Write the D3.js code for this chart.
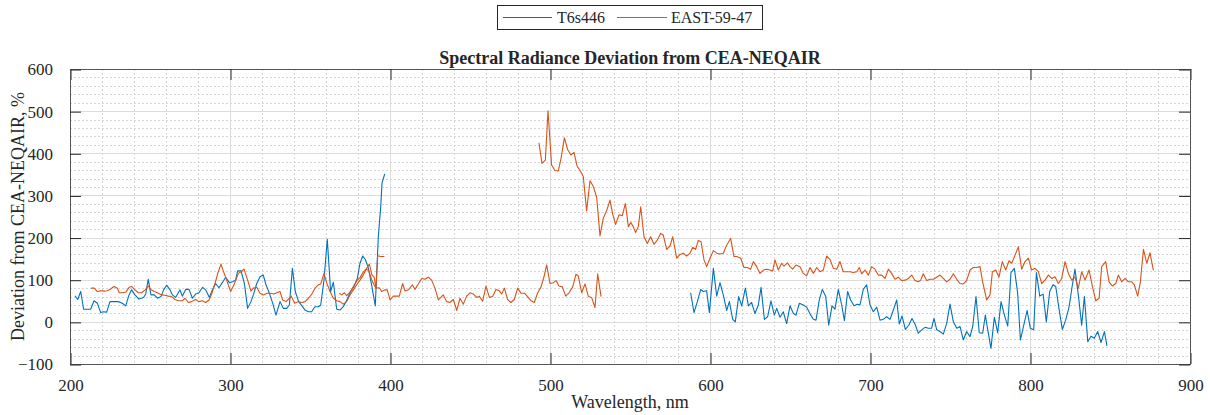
<!DOCTYPE html>
<html>
<head>
<meta charset="utf-8">
<script src="https://cdn.jsdelivr.net/npm/d3@7"></script>
<style>
  html, body { margin: 0; padding: 0; background: #fff; }
  svg { display: block; font-family: "Liberation Serif", "Times New Roman", serif; }
  svg text { font-family: "Liberation Serif", "Times New Roman", serif !important; fill: #262626; }
</style>
</head>
<body>
<svg id="chart" width="1210" height="415"></svg>
<script>
// Axis ticks
const xTicks = [200, 300, 400, 500, 600, 700, 800, 900];
const yTicks = [-100, 0, 100, 200, 300, 400, 500, 600];

// T6s446 — first band (UV / blue)
const t6Wave1 = [203.1,204.8,206.7,208.5,211,212.9,215,217.1,219.2,220.8,222.9,225,227.1,230.2,232.7,234.8,236.9,238.5,240.6,243.1,246,247.3,248.9,250.6,252.7,254.8,256.9,258.5,260.4,262.5,264,266,268.75,270.2,272.3,274.4,276.5,278.5,280.6,282.9,284.8,287.1,289,291,293.1,295.2,297.3,299.6,301.7,303.5,304.8,306.9,309,311,313.1,314.6,316.7,318.75,320.8,322.5,324.6,326.7,328.75,331.25,333.3,335.4,337.1,339,340.8,342.9,345,346.9,349,351,353.1,355.2,356.7,358.75,360.8,362.9,364.6,366.7,368.75,370.8,372.5,374,375.4,377.5,379.6,381.25,382.9,384.6,386.5,388.5,390.8,392.7,394.2,395,396.7];
const t6Dev1 = [62,53,72,30,30,30,50,44,22,24,23,48,48,48,44,38,64,76,64,54,58,66,101,64,64,56,60,76,87,76,64,58,76,61,77,77,56,66,69,82,76,58,76,91,81,93,106,93,95,99,121,121,91,32,48,64,91,107,111,88,68,44,16,48,32,32,40,127,72,48,38,28,24,24,36,36,40,99,196,72,94,30,28,36,48,60,72,84,103,139,156,148,127,88,38,202,273,329,351];

// T6s446 — second band (red / near IR)
const t6Wave2 = [587.9,590,592.1,594.2,595.8,597.9,599.6,602.1,604.2,606.25,608.3,610.4,612.1,614.2,615.8,617.9,619.8,622.1,624,626,628.1,630.2,631.9,634,636,638.1,640.2,641.7,643.75,645.8,647.9,650,652.1,653.75,655.8,658.3,660.4,662.5,664.6,666.25,668.3,670.2,672.3,674.2,676.25,678.1,680.2,682.3,684,686,687.9,690,692.1,693.75,695.8,697.9,700,702.1,704.2,706.25,708.3,710.4,712.5,714.6,716.7,718.3,720,722.1,724.2,726.25,728.1,730.2,732.3,734.4,736.5,738.5,740,741.7,743.75,745.8,747.9,750,752.1,754.2,756.25,758.3,760.4,762.5,764.2,766.25,768.3,770.4,772.1,773.6,775.6,777.7,779.8,781.9,784,786.1,788.1,790.2,792.3,794,796.1,798.2,800.2,802.3,804,806.1,808.2,810.2,812.3,814.4,816.1,818.1,820.2,822.3,824.4,826.5,828.1,830.2,832.3,834,836.1,838.1,840.2,842.3,844.4,846.5,848.1];
const t6Dev2 = [69,22,48,77,72,74,22,127,61,93,64,27,48,6,0,60,38,80,38,46,20,40,82,6,12,50,16,32,11,24,-4,38,20,16,44,40,35,19,6,4,52,77,61,-8,38,30,77,40,3,72,52,38,42,40,77,88,40,24,35,4,6,12,6,28,52,-5,14,-18,-8,8,-5,-27,-19,-13,-15,-15,8,-19,-23,-29,-4,42,0,-15,-11,-43,-23,-35,-11,60,-26,-27,16,-19,-63,11,-26,48,16,-10,117,127,68,-43,-8,27,-15,-19,117,61,66,0,72,88,84,32,-18,4,35,88,125,64,-8,60,-47,-34,-39,-23,-49,-23,-57];

// EAST-59-47 — first band
const eastWave1 = [213.1,215.2,217.1,219.2,221.25,223.3,225.4,227.5,229.6,230.8,232.9,235,237,238.5,240.6,242.7,244.8,246.9,249,250.6,252.7,255.2,257.3,259.4,261.5,263.5,265.6,267.7,270.2,271.9,274,276,278.5,280.6,282.7,284.8,286.9,288.5,290.6,292.7,294.4,295.8,297.9,300.4,302.5,305.2,306.9,308.75,311,313.1,314.6,316.7,318.75,320.8,323.3,325.4,327.5,329.2,331.25,332.9,335,337.1,338.3,340.4,342.5,345,346.9,349,351,353.1,355.2,356.7,358.75,360.4,362.5,364.6,366.7,368.75,370.8,372.9,375,377.1,379.2,381.25,383.3,385.4,387.1,388.75,390,391.25,392.3,394.2,396.5];
const eastDev1 = [80,80,72,74,73,74,78,84,80,69,69,71,82,84,76,69,69,76,85,76,72,68,64,63,61,60,53,50,50,56,46,48,53,48,50,46,52,66,91,119,137,121,99,72,88,115,119,125,99,73,80,82,68,64,68,68,66,69,72,52,48,56,61,44,48,46,48,56,65,80,88,90,115,93,72,56,50,48,42,48,64,76,88,99,111,127,137,111,107,80,157,155,155];

// EAST-59-47 — second band
const eastWave2 = [368.3,369.8,371.5,372.9,374.6,376,377.7,379.6,381.25,383.3,385,386.7,388.5,390,391.25,393.3,394.8,396.9,398.3,400,402.1,404.2,405.8,407.9,409.4,411.5,414,415.6,417.7,419.8,421.9,424,426,428.1,430.2,433.3,435.4,437.5,439.6,441.7,443.75,445.8,447.9,450,452.1,454.2,455.8,457.9,460,462.1,464.2,466.25,468.3,469.8,471.5,473.5,475.6,477.7,479.8,481.9,484,486,488.1,490.2,492.3,494.4,496.25,497.9,500,502.1,503.75,505.6,507.7,509.8,511.9,514.2,516.25,517.7,519.8,521.9,524,526,528.1,529.8,531.9];
const eastDev2 = [68,64,69,62,69,76,88,99,105,118,125,122,100,88,80,81,72,76,76,52,61,61,61,91,73,76,88,77,90,103,101,106,99,80,52,64,48,46,53,27,56,42,61,69,66,58,61,49,85,58,61,77,74,66,80,53,46,53,80,68,68,60,50,46,69,83,107,135,91,93,98,85,83,61,69,83,113,109,69,90,60,58,34,114,60];

// EAST-59-47 — third band
const eastWave3 = [493.1,495,497.1,498.75,501,503.1,505.2,506.9,509,511,513.1,515,516.9,518.75,520.8,522.9,525,527.1,529.2,531.25,533.3,535.4,537.5,539.2,541,543.1,545.2,547.1,549,550.5,552,553.5,555.2,556.7,558.75,560.8,562.9,565,567.1,569.2,570.8,572.9,575,576.7,579.2,581.25,583.3,585.4,587.5,589.2,591,592.7,594.4,596.25,597.9,600,602.1,604.2,606.25,608.3,610.4,612.9,615,616.7,619.2,621.25,623.3,625.4,627.1,629.2,631.25,633.3,635.4,637.5,639.2,640.6,642.7,644.8,646.25,648.4,650,651.7,653.75,656.25,658.3,660.4,662.5,664.6,666.7,668.75,670.8,672.9,675,677.1,679.2,681.25,683.3,685.4,687.5,689.6,691.7,693.3,694.8,696.9,699,701,703.1,705.2,707.3,709.4,711.5,713.5,715.6,717.7,719.8,721.9,724,726,728.1,730.2,731.7,733.3,735.4,737.5,739.6,741.7,743.75,745.8,747.9,750,752.1,754.2,756.25,758.3,760.4,762.5,764.6,766.7,768.75,770.4,772.9,775,776.5,778.6,780.6,782.7,784.8,786.9,788.6,790.7,792.7,794.8,796.9,799,801,803.2,805.2,807.3,809.4,811.5,813.6,815.6,817.7,819.8,821.9,824,826.1,828.1,830.2,832.3,834.4,836.9,839,841.1,843.2,844.8,847.3,849.4,851.5,853.6,855.2,857.3,859.4,861.5,863.6,865.2,867.3,869,870.9,873,875,877.1];
const eastDev3 = [425,376,384,501,372,359,358,388,437,409,396,402,370,359,345,263,335,321,295,204,246,264,289,255,231,254,252,281,226,236,226,212,226,273,202,186,202,184,194,210,206,172,180,202,151,160,163,156,163,177,172,193,190,147,131,151,169,163,161,163,182,198,155,155,151,129,129,125,143,131,115,123,125,123,121,147,123,139,132,140,131,125,135,131,115,109,129,115,129,119,123,156,148,127,125,143,119,119,119,117,119,129,114,123,111,131,125,111,111,103,125,115,101,106,98,99,103,111,98,95,99,114,98,101,101,106,111,103,95,101,114,101,91,90,98,123,129,129,131,95,52,64,119,123,106,143,123,145,139,159,178,125,143,151,123,127,119,91,99,111,103,107,91,103,143,115,99,107,80,119,99,123,84,50,56,131,143,95,85,91,111,95,103,95,95,88,61,95,172,139,164,122];

const SERIF = '"Liberation Serif", "Times New Roman", serif';
const zip = (xs, ys) => xs.map((x, i) => [x, ys[i]]);
const series = [
  { name: "T6s446", color: "#0072BD", parts: [zip(t6Wave1, t6Dev1), zip(t6Wave2, t6Dev2)] },
  { name: "EAST-59-47", color: "#D95319", parts: [zip(eastWave1, eastDev1), zip(eastWave2, eastDev2), zip(eastWave3, eastDev3)] }
];

const svg = d3.select("#chart");
const plot = { left: 70, right: 1190, top: 69, bottom: 364 };

const x = d3.scaleLinear().domain([200, 900]).range([plot.left, plot.right]);
const y = d3.scaleLinear().domain([-100, 600]).range([plot.bottom, plot.top]);
const px = v => Math.round(v) + 0.5;

// Grid: dotted minor lines every 20, solid major lines every 100
const grid = svg.append("g");
const minorX = d3.range(200, 901, 20).filter(v => v % 100 !== 0);
const minorY = d3.range(-100, 601, 20).filter(v => v % 100 !== 0);
grid.selectAll(".mx").data(minorX).join("line")
  .attr("x1", d => px(x(d))).attr("x2", d => px(x(d)))
  .attr("y1", plot.top).attr("y2", plot.bottom)
  .attr("stroke", "#d6d6d6").attr("stroke-dasharray", "2,2");
grid.selectAll(".my").data(minorY).join("line")
  .attr("x1", plot.left).attr("x2", plot.right)
  .attr("y1", d => px(y(d))).attr("y2", d => px(y(d)))
  .attr("stroke", "#d6d6d6").attr("stroke-dasharray", "2,2");
grid.selectAll(".gx").data(xTicks.slice(1, -1)).join("line")
  .attr("x1", d => px(x(d))).attr("x2", d => px(x(d)))
  .attr("y1", plot.top).attr("y2", plot.bottom)
  .attr("stroke", "#dcdcdc");
grid.selectAll(".gy").data(yTicks.slice(1, -1)).join("line")
  .attr("x1", plot.left).attr("x2", plot.right)
  .attr("y1", d => px(y(d))).attr("y2", d => px(y(d)))
  .attr("stroke", "#dcdcdc");

// Data lines
const line = d3.line().x(d => x(d[0])).y(d => y(d[1]));
const lines = svg.append("g");
series.forEach(s => {
  s.parts.forEach(p => {
    lines.append("path").datum(p)
      .attr("d", line)
      .attr("fill", "none")
      .attr("stroke", s.color)
      .attr("stroke-width", 1.1)
      .attr("stroke-linejoin", "round");
  });
});

// Axes on all four sides with inward ticks
const tickLen = 11;
const axisColor = "#262626";
const axes = svg.append("g");
const bottomAxis = d3.axisBottom(x).tickValues(xTicks).tickSizeInner(-tickLen).tickSizeOuter(0).tickPadding(tickLen + 4);
const topAxis = d3.axisTop(x).tickValues(xTicks).tickSizeInner(-tickLen).tickSizeOuter(0).tickFormat("");
const leftAxis = d3.axisLeft(y).tickValues(yTicks).tickSizeInner(-tickLen).tickSizeOuter(0).tickPadding(tickLen + 6);
const rightAxis = d3.axisRight(y).tickValues(yTicks).tickSizeInner(-tickLen).tickSizeOuter(0).tickFormat("");

function styleAxis(g) {
  g.attr("font-family", null).attr("font-size", null);
  g.select(".domain").attr("stroke", "#555");
  g.selectAll(".tick line").attr("stroke", axisColor);
  g.selectAll(".tick text")
    .style("font-family", SERIF)
    .style("font-size", "17px").attr("fill", "#262626");
}
axes.append("g").attr("transform", `translate(0.5,${px(plot.bottom) - 0.5})`).call(bottomAxis).call(styleAxis);
axes.append("g").attr("transform", `translate(0.5,${px(plot.top) - 0.5})`).call(topAxis).call(styleAxis);
axes.append("g").attr("transform", `translate(${px(plot.left) - 0.5},0.5)`).call(leftAxis).call(styleAxis);
axes.append("g").attr("transform", `translate(${px(plot.right) - 0.5},0.5)`).call(rightAxis).call(styleAxis);

// Titles
svg.append("text")
  .attr("x", (plot.left + plot.right) / 2).attr("y", 64)
  .attr("text-anchor", "middle").style("font-family", SERIF).style("font-weight", "bold").style("font-size", "18px")
  .attr("fill", "#000")
  .text("Spectral Radiance Deviation from CEA-NEQAIR");
svg.append("text")
  .attr("x", (plot.left + plot.right) / 2).attr("y", 408)
  .attr("text-anchor", "middle").style("font-family", SERIF).style("font-size", "18px")
  .text("Wavelength, nm");
svg.append("text")
  .attr("transform", `translate(24,${(plot.top + plot.bottom) / 2}) rotate(-90)`)
  .attr("text-anchor", "middle").style("font-family", SERIF).style("font-size", "18px")
  .text("Deviation from CEA-NEQAIR, %");

// Legend
const legend = svg.append("g");
legend.append("rect")
  .attr("x", 497.5).attr("y", 5.5).attr("width", 265).attr("height", 24)
  .attr("fill", "#fff").attr("stroke", "#262626");
const legendItems = [
  { s: series[0], x0: 503, x1: 552, tx: 557 },
  { s: series[1], x0: 617, x1: 667, tx: 671 }
];
legendItems.forEach(it => {
  legend.append("line")
    .attr("x1", it.x0).attr("x2", it.x1).attr("y1", 17.5).attr("y2", 17.5)
    .attr("stroke", it.s.color).attr("stroke-width", 1.1);
  legend.append("text")
    .attr("x", it.tx).attr("y", 23).style("font-family", SERIF).style("font-size", "16px")
    .text(it.s.name);
});
</script>
</body>
</html>
